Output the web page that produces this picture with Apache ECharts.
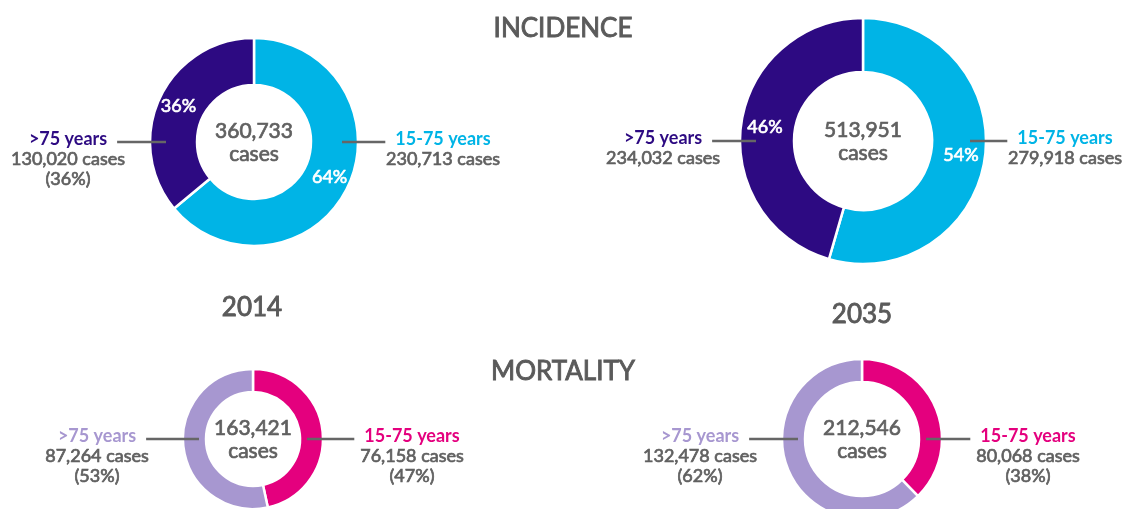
<!DOCTYPE html>
<html>
<head>
<meta charset="utf-8">
<title>Incidence and mortality 2014 / 2035</title>
<script src="https://cdn.jsdelivr.net/npm/echarts@6/dist/echarts.min.js"></script>
<style>
  html, body { margin: 0; padding: 0; background: #fff; }
  #chart { width: 1125px; height: 509px; }
</style>
</head>
<body>
<div id="chart"></div>
<script>
// data
var groups = ['15-75 years', '>75 years'];
var years = ['2014', '2035'];
var sections = ['INCIDENCE', 'MORTALITY'];
var incidence2014 = [230713, 130020];
var incidence2035 = [279918, 234032];
var mortality2014 = [76158, 87264];
var mortality2035 = [80068, 132478];
var totals = [360733, 513951, 163421, 212546];

var FONT = 'Lato, "Open Sans", sans-serif';
var GREY = '#606060';
// the original type is a medium weight: regular Lato with a hairline outline
var THICK = 0.7;

function fmt(n) {
  return n.toLocaleString('en-US');
}

// width of the bold group name, so the grey line stops just short of it
var ctx = document.createElement('canvas').getContext('2d');
function nameWidth(text) {
  ctx.font = 'bold 18px ' + FONT;
  return ctx.measureText(text).width;
}

// layout for each donut: centre, radii, colours, where the side labels go
var donuts = [
  { data: incidence2014, total: totals[0], center: [254, 142], radius: [57, 104],
    colors: ['#00b4e6', '#2d0a82'], inside: true, showPct: [false, true], labelDx: [189, -186] },
  { data: incidence2035, total: totals[1], center: [863, 141], radius: [69, 123],
    colors: ['#00b4e6', '#2d0a82'], inside: true, showPct: [false, false], labelDx: [202, -200] },
  { data: mortality2014, total: totals[2], center: [253, 439], radius: [47, 70],
    colors: ['#e4007e', '#a797d0'], inside: false, showPct: [true, true], labelDx: [159, -156] },
  { data: mortality2035, total: totals[3], center: [862, 439], radius: [57, 80],
    colors: ['#e4007e', '#a797d0'], inside: false, showPct: [true, true], labelDx: [166, -162] }
];

var series = [];
var graphic = [];

donuts.forEach(function (d) {
  var items = d.data.map(function (v, i) {
    return { name: groups[i], value: v, itemStyle: { color: d.colors[i] } };
  });

  // the coloured ring, with the white percentages inside (incidence only)
  series.push({
    type: 'pie',
    center: d.center,
    radius: d.radius,
    startAngle: 90,
    clockwise: true,
    percentPrecision: 0,
    silent: true,
    avoidLabelOverlap: false,
    itemStyle: { borderColor: '#fff', borderWidth: 2.5 },
    label: {
      show: d.inside,
      position: 'inside',
      formatter: '{d}%',
      color: '#fff',
      textBorderColor: '#fff',
      textBorderWidth: THICK,
      fontFamily: FONT,
      fontSize: 18
    },
    labelLine: { show: false },
    data: items,
    z: 2
  });

  // same ring again, invisible, carrying the side labels and their lines
  series.push({
    type: 'pie',
    center: d.center,
    radius: d.radius,
    startAngle: 90,
    clockwise: true,
    percentPrecision: 0,
    silent: true,
    avoidLabelOverlap: false,
    itemStyle: { color: 'rgba(0,0,0,0)', borderWidth: 0 },
    label: {
      show: true,
      position: 'outside',
      formatter: function (p) {
        var s = '{n' + p.dataIndex + '|' + p.name + '}\n{v|' + fmt(p.value) + ' cases}';
        if (d.showPct[p.dataIndex]) s += '\n{v|(' + p.percent + '%)}';
        return s;
      },
      rich: {
        n0: { color: d.colors[0], fontFamily: FONT, fontSize: 18, fontWeight: 'bold', lineHeight: 20, align: 'center' },
        n1: { color: d.colors[1], fontFamily: FONT, fontSize: 18, fontWeight: 'bold', lineHeight: 20, align: 'center' },
        v: { color: GREY, textBorderColor: GREY, textBorderWidth: THICK, fontFamily: FONT, fontSize: 18,
             lineHeight: 20, align: 'center' }
      }
    },
    labelLine: {
      show: true,
      length: 10,
      length2: 10,
      lineStyle: { color: '#666', width: 2.5 }
    },
    labelLayout: function (p) {
      var i = p.dataIndex;
      var side = i === 0 ? 1 : -1;
      var cx = d.center[0], cy = d.center[1], R = d.radius[1];
      var outer = Math.abs(d.labelDx[i]) - nameWidth(groups[i]) / 2 - 10;
      return {
        x: cx + d.labelDx[i],
        y: cy - 13,
        align: 'center',
        verticalAlign: 'top',
        labelLinePoints: [
          [cx + side * (R - 16), cy],
          [cx + side * (R + 5), cy],
          [cx + side * outer, cy]
        ]
      };
    },
    data: items.map(function (it) {
      return { name: it.name, value: it.value };
    }),
    z: 3
  });

  // total in the hole
  graphic.push({
    type: 'text',
    x: d.center[0],
    y: d.center[1] + 1,
    style: {
      text: fmt(d.total) + '\ncases',
      align: 'center',
      verticalAlign: 'middle',
      fill: GREY,
      stroke: GREY,
      lineWidth: THICK,
      font: '21px ' + FONT,
      lineHeight: 23
    }
  });
});

// headings
function heading(text, x, y) {
  return {
    type: 'text',
    x: x,
    y: y,
    style: {
      text: text,
      align: 'center',
      verticalAlign: 'middle',
      fill: '#5a5a5a',
      stroke: '#5a5a5a',
      lineWidth: 0.9,
      font: '26px ' + FONT
    }
  };
}
graphic.push(heading(sections[0], 563, 29));
graphic.push(heading(sections[1], 563, 372));
graphic.push(heading(years[0], 252, 308));
graphic.push(heading(years[1], 862, 315));

var chart = echarts.init(document.getElementById('chart'));
chart.setOption({
  backgroundColor: '#fff',
  animation: false,
  series: series,
  graphic: graphic
});
</script>
</body>
</html>
